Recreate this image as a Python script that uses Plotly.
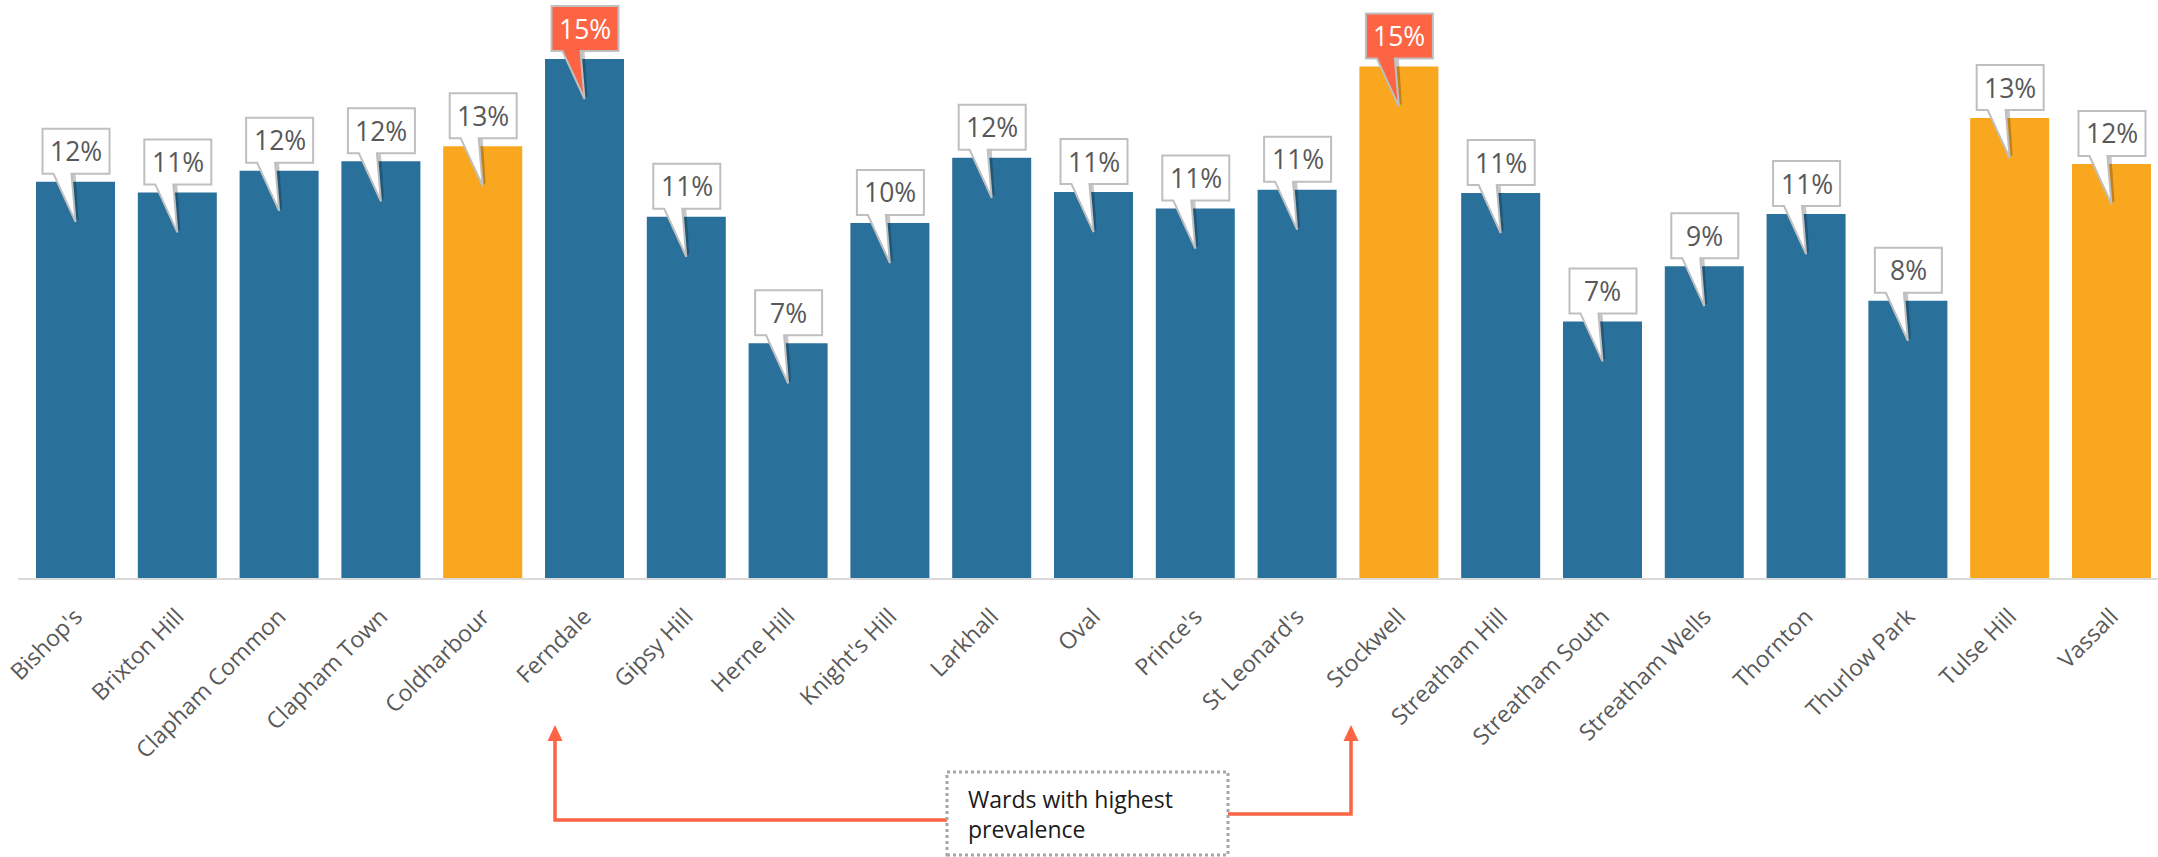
import plotly.graph_objects as go

# Ward-level prevalence (fraction of population)
wards = [
    "Bishop's", "Brixton Hill", "Clapham Common", "Clapham Town", "Coldharbour",
    "Ferndale", "Gipsy Hill", "Herne Hill", "Knight's Hill", "Larkhall", "Oval",
    "Prince's", "St Leonard's", "Stockwell", "Streatham Hill", "Streatham South",
    "Streatham Wells", "Thornton", "Thurlow Park", "Tulse Hill", "Vassall",
]
prevalence = [
    0.1155, 0.1124, 0.1187, 0.1215, 0.1259,
    0.1513, 0.1053, 0.0684, 0.1035, 0.1225, 0.1125,
    0.1077, 0.1132, 0.1491, 0.1122, 0.0748,
    0.0909, 0.1061, 0.0808, 0.1341, 0.1207,
]
orange_wards = ["Coldharbour", "Stockwell", "Tulse Hill", "Vassall"]
top_wards = ["Ferndale", "Stockwell"]

BLUE = "#29709B"
ORANGE = "#F9A71F"
RED = "#FC6443"
GREY_TEXT = "#595959"
BORDER = "#BFBFBF"

W, H = 2158, 857
ML, MB = 18, 279
PLOT_H = H - MB
X_RANGE = [-0.565, 20.457]
Y_MAX = 0.1685

xs = list(range(len(wards)))
bar_colors = [ORANGE if w in orange_wards else BLUE for w in wards]

fig = go.Figure(
    go.Bar(
        x=xs,
        y=prevalence,
        marker=dict(color=bar_colors, line=dict(width=0)),
        hoverinfo="skip",
    )
)

shapes = []
annotations = []

# Speech-bubble callouts (pixel offsets from the top of each bar, y up)
bubble = "M -33,53 L 34,53 L 34,8 L -4,8 L 0,-40 L -22,8 L -33,8 Z"
shadow = "M -4,8 L 0,-40 L 3,-37 L 0,8 Z"
for x, w, v in zip(xs, wards, prevalence):
    hot = w in top_wards
    shapes.append(dict(
        type="path", xref="x", yref="y", xsizemode="pixel", ysizemode="pixel",
        xanchor=x, yanchor=v, path=shadow,
        fillcolor="rgba(0,0,0,0.22)", line=dict(width=0), layer="above",
    ))
    shapes.append(dict(
        type="path", xref="x", yref="y", xsizemode="pixel", ysizemode="pixel",
        xanchor=x, yanchor=v, path=bubble,
        fillcolor=RED if hot else "white",
        line=dict(color=BORDER, width=2), layer="above",
    ))
    annotations.append(dict(
        x=x, y=v, xref="x", yref="y", text=f"{v:.0%}", showarrow=False,
        xanchor="center", yanchor="middle", xshift=0.5, yshift=30.5,
        font=dict(family="Open Sans", size=26.5,
                  color="white" if hot else GREY_TEXT),
    ))


# Helpers for the note below the axis (screen pixels -> axis / paper units)
def px_to_x(px):
    return X_RANGE[0] + (px - ML) / (W - ML) * (X_RANGE[1] - X_RANGE[0])


def py_to_paper(py):
    return (PLOT_H - py) / PLOT_H


left_arrow_x = px_to_x(555)
right_arrow_x = px_to_x(1351)
box_x0, box_x1 = px_to_x(947), px_to_x(1228)
box_y0, box_y1 = py_to_paper(855), py_to_paper(772)

# Connector lines
shapes.append(dict(
    type="path", xref="x", yref="paper",
    path=(f"M {left_arrow_x},{py_to_paper(738)} L {left_arrow_x},{py_to_paper(820)} "
          f"L {box_x0},{py_to_paper(820)}"),
    line=dict(color=RED, width=3.5),
))
shapes.append(dict(
    type="path", xref="x", yref="paper",
    path=(f"M {box_x1},{py_to_paper(814)} L {right_arrow_x},{py_to_paper(814)} "
          f"L {right_arrow_x},{py_to_paper(738)}"),
    line=dict(color=RED, width=3.5),
))
# Arrow heads
for ax_x in (left_arrow_x, right_arrow_x):
    shapes.append(dict(
        type="path", xref="x", yref="paper", xsizemode="pixel", ysizemode="pixel",
        xanchor=ax_x, yanchor=py_to_paper(725),
        path="M 0,0 L -7.5,-16 L 7.5,-16 Z",
        fillcolor=RED, line=dict(width=0),
    ))
# Dotted note box
shapes.append(dict(
    type="rect", xref="x", yref="paper",
    x0=box_x0, x1=box_x1, y0=box_y0, y1=box_y1,
    fillcolor="white", line=dict(color="#A6A6A6", width=3, dash="dot"),
))
annotations.append(dict(
    x=box_x0, y=py_to_paper(814), xref="x", yref="paper",
    text="Wards with highest<br>prevalence", showarrow=False,
    xanchor="left", yanchor="middle", align="left", xshift=19,
    font=dict(family="Open Sans", size=23, color="#1A1A1A"),
))

fig.update_layout(
    width=W, height=H,
    margin=dict(l=ML, r=0, t=0, b=MB, pad=0),
    paper_bgcolor="white", plot_bgcolor="white",
    bargap=0.224,
    showlegend=False,
    shapes=shapes,
    annotations=annotations,
    xaxis=dict(
        range=X_RANGE, tickvals=xs, ticktext=wards, tickangle=-45,
        tickfont=dict(family="Open Sans", size=23, color=GREY_TEXT),
        showgrid=False, zeroline=False, showline=True,
        linecolor="#D9D9D9", linewidth=2,
        ticks="outside", ticklen=14, tickcolor="rgba(0,0,0,0)",
        fixedrange=True,
    ),
    yaxis=dict(
        range=[0, Y_MAX], visible=False, showgrid=False, zeroline=False,
        fixedrange=True,
    ),
)

fig.write_html("out.html")
